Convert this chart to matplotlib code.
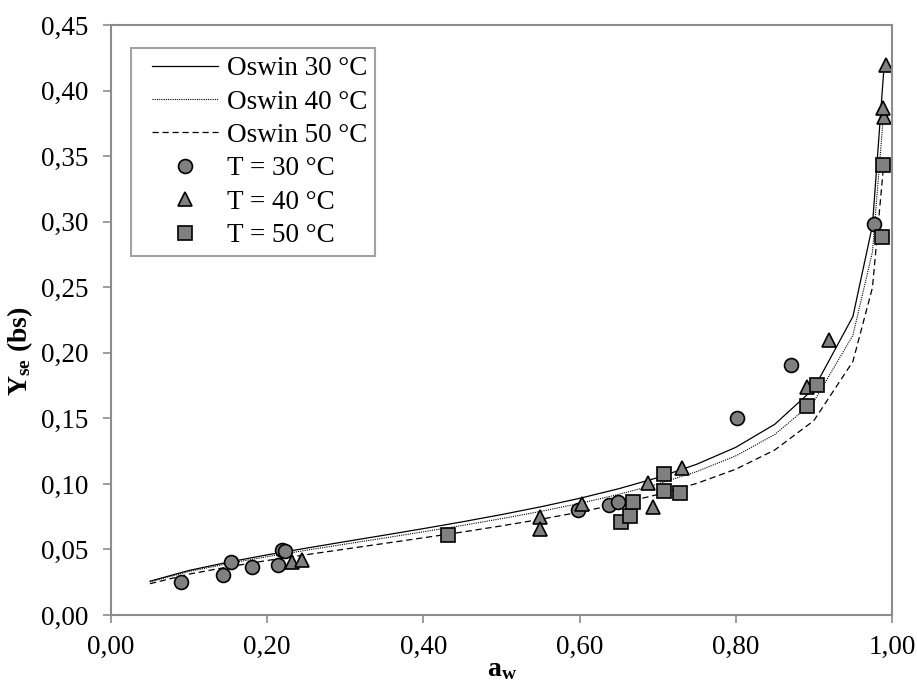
import matplotlib
matplotlib.use('Agg')
import matplotlib.pyplot as plt
from matplotlib.legend_handler import HandlerLine2D

plt.rcParams['font.family'] = 'Liberation Serif'
plt.rcParams['mathtext.fontset'] = 'custom'
plt.rcParams['mathtext.rm'] = 'Liberation Serif'
plt.rcParams['mathtext.bf'] = 'Liberation Serif:bold'

# Oswin model curves
aw_model = [0.05, 0.10, 0.15, 0.20, 0.25, 0.30, 0.35, 0.40, 0.45, 0.50, 0.55,
            0.60, 0.65, 0.70, 0.75, 0.80, 0.85, 0.90, 0.95, 0.975, 0.99]
oswin_30 = [0.0258, 0.0340, 0.0403, 0.0459, 0.0510, 0.0560, 0.0609, 0.0659, 0.0711, 0.0766, 0.0825,
            0.0890, 0.0963, 0.1048, 0.1150, 0.1279, 0.1455, 0.1727, 0.2277, 0.2971, 0.4194]
oswin_40 = [0.0253, 0.0332, 0.0392, 0.0445, 0.0494, 0.0541, 0.0587, 0.0635, 0.0683, 0.0735, 0.0790,
            0.0851, 0.0920, 0.0999, 0.1094, 0.1214, 0.1377, 0.1628, 0.2134, 0.2769, 0.3879]
oswin_50 = [0.0239, 0.0312, 0.0367, 0.0416, 0.0460, 0.0503, 0.0546, 0.0589, 0.0633, 0.0680, 0.0730,
            0.0785, 0.0847, 0.0919, 0.1004, 0.1112, 0.1259, 0.1483, 0.1934, 0.2497, 0.3475]

# experimental points
aw_30 = [0.090, 0.143, 0.154, 0.181, 0.214, 0.219, 0.223, 0.598, 0.638, 0.649, 0.802, 0.871, 0.977]
y_30 = [0.0254, 0.0307, 0.0404, 0.0364, 0.0384, 0.0496, 0.0490, 0.0800, 0.0837, 0.0862, 0.1505, 0.1907, 0.2982]
aw_40 = [0.232, 0.245, 0.549, 0.549, 0.603, 0.688, 0.694, 0.731, 0.891, 0.920, 0.990, 0.989, 0.992]
y_40 = [0.0407, 0.0420, 0.0745, 0.0654, 0.0844, 0.1009, 0.0826, 0.1124, 0.1741, 0.2098, 0.3796, 0.3865, 0.4195]
aw_50 = [0.431, 0.653, 0.665, 0.669, 0.708, 0.708, 0.729, 0.891, 0.904, 0.987, 0.988]
y_50 = [0.0610, 0.0707, 0.0757, 0.0860, 0.1073, 0.0948, 0.0928, 0.1597, 0.1754, 0.2880, 0.3435]

xticks = [0.0, 0.2, 0.4, 0.6, 0.8, 1.0]
yticks = [0.0, 0.05, 0.10, 0.15, 0.20, 0.25, 0.30, 0.35, 0.40, 0.45]

fig = plt.figure(figsize=(9.17, 6.82), dpi=100)
ax = fig.add_axes([0.121, 0.0982, 0.8517, 0.8651])

ax.plot(aw_model, oswin_30, color='black', lw=0.9, label='Oswin 30 °C')
ax.plot(aw_model, oswin_40, color='black', lw=0.8, ls=(0, (1, 1)), label='Oswin 40 °C')
ax.plot(aw_model, oswin_50, color='black', lw=0.9, ls=(0, (5, 3)), label='Oswin 50 °C')

mk = dict(ls='none', markerfacecolor='#808080', markeredgecolor='black', markeredgewidth=1.2, markersize=10)
ax.plot(aw_30, y_30, marker='o', label='T = 30 °C', **mk)
ax.plot(aw_40, y_40, marker='^', label='T = 40 °C', **mk)
ax.plot(aw_50, y_50, marker='s', label='T = 50 °C', **mk)

ax.set_xlim(0, 1)
ax.set_ylim(0, 0.45)
ax.set_xticks(xticks)
ax.set_yticks(yticks)
ax.set_xticklabels([f'{v:.2f}'.replace('.', ',') for v in xticks])
ax.set_yticklabels([f'{v:.2f}'.replace('.', ',') for v in yticks])
ax.tick_params(direction='out', length=6, width=1.2, color='#8c8c8c', labelsize=19.5)
ax.tick_params(axis='x', pad=8)
ax.tick_params(axis='y', pad=10)
for s in ax.spines.values():
    s.set_color('#8c8c8c')
    s.set_linewidth(1.5)

# xpad leaves room left of the handles like in the original legend
handles, labels = ax.get_legend_handles_labels()
hmap = {h: HandlerLine2D(xpad=0.48) for h in handles}
leg = ax.legend(handles, labels, handler_map=hmap, loc='upper left',
                bbox_to_anchor=(0.0256, 0.961), fontsize=19.5,
                frameon=True, fancybox=False, handlelength=2.9, handletextpad=0.33,
                labelspacing=0.31, borderpad=0.3, borderaxespad=0)
leg.get_frame().set_edgecolor('#8c8c8c')
leg.get_frame().set_linewidth(1.5)

fig.text(0.547, 0.0, r'$\mathbf{a_w}$', ha='center', va='bottom', fontsize=20)
fig.text(0.022, 0.485, r'$\mathbf{Y_{se}}$ (bs)', rotation=90, ha='center', va='center',
         fontsize=20, fontweight='bold')

fig.savefig('out.png', dpi=100)
